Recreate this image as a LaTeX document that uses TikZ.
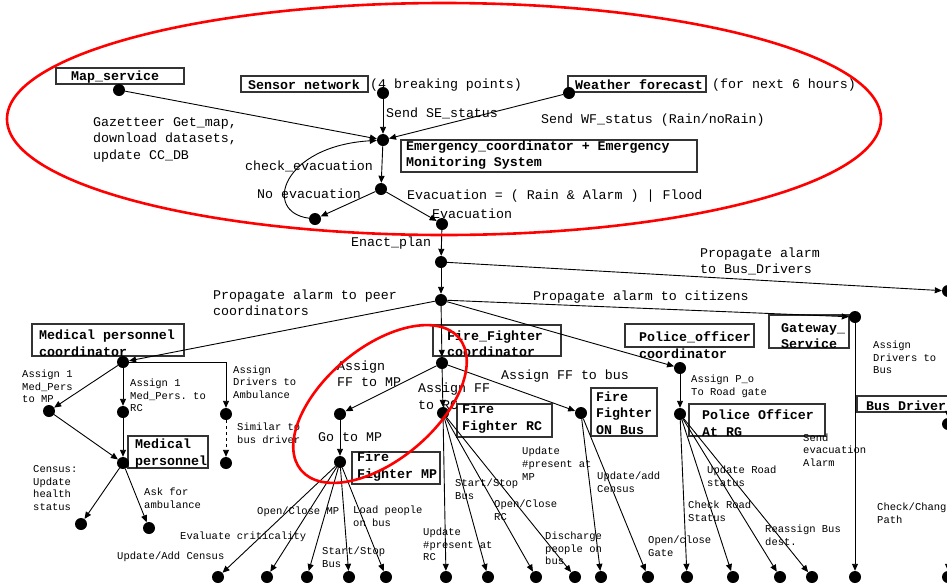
\documentclass[tikz,border=0pt]{standalone}
\usepackage{fontspec}
\setmonofont{Liberation Mono}
\usetikzlibrary{arrows.meta}

\begin{document}
\begin{tikzpicture}[x=1pt, y=-1pt,
    dot/.style={circle, fill, inner sep=0, minimum size=12pt},
    box/.style={draw=black!80, line width=1.1pt, inner sep=0},
    txt/.style={anchor=west, inner sep=0, align=left, font=\ttfamily\fontsize{13.3}{16.5}\selectfont},
    small/.style={anchor=west, inner sep=0, align=left, font=\ttfamily\fontsize{10.5}{12.7}\selectfont},
    boxtxt/.style={anchor=west, inner sep=0, align=left, font=\ttfamily\bfseries\fontsize{13.3}{16.5}\selectfont},
    arr/.style={-{Triangle[length=7pt, width=6pt]}, line width=0.9pt},
    ring/.style={draw=red, line width=2.6pt}]
    \useasboundingbox (0,0) rectangle (947,587);
    \clip (0,0) rectangle (947,587);

    \node[box, minimum width=128pt, minimum height=16pt] (mapbox) at (120,76) {};
    \node[boxtxt] (maptxt) at (71,77) {Map\_service};
    \node[box, minimum width=127pt, minimum height=16pt] (sensbox) at (304.5,84) {};
    \node[boxtxt] (senstxt) at (248,85) {Sensor network};
    \node[txt] (sensinfo) at (370,85) {(4 breaking points)};
    \node[box, minimum width=138pt, minimum height=16pt] (wfbox) at (637,84) {};
    \node[boxtxt] (wftxt) at (575,85) {Weather forecast};
    \node[txt] (wfinfo) at (712,85) {(for next 6 hours)};
    \node[box, minimum width=296pt, minimum height=32pt] (embox) at (549,156) {};
    \node[boxtxt] (emtxt) at (406,155) {Emergency\_coordinator + Emergency\\Monitoring System};

    \node[box, minimum width=152pt, minimum height=32pt] (medcbox) at (108,340) {};
    \node[boxtxt] (medctxt) at (39,343) {Medical personnel\\coordinator};
    \node[box, minimum width=128pt, minimum height=31pt] (ffcbox) at (497,340.5) {};
    \node[boxtxt] (ffctxt) at (447,343.5) {Fire\_Fighter\\coordinator};
    \node[box, minimum width=129pt, minimum height=23pt] (pocbox) at (689.5,335.5) {};
    \node[boxtxt] (poctxt) at (639,345) {Police\_officer\\coordinator};
    \node[box, minimum width=80pt, minimum height=33pt] (gwbox) at (809,331.5) {};
    \node[boxtxt] (gwtxt) at (781,336) {Gateway\_\\Service};
    \node[box, minimum width=103pt, minimum height=16pt] (bdbox) at (908.5,404) {};
    \node[boxtxt] (bdtxt) at (866,406) {Bus Driver};
    \node[box, minimum width=80pt, minimum height=32pt] (mpbox) at (168,452) {};
    \node[boxtxt] (mptxt) at (135,453.5) {Medical\\personnel};
    \node[box, minimum width=95pt, minimum height=33pt] (frcbox) at (504.5,420.5) {};
    \node[boxtxt] (frctxt) at (462,418.5) {Fire\\Fighter RC};
    \node[box, minimum width=66pt, minimum height=48pt] (fbusbox) at (624,412) {};
    \node[boxtxt] (fbustxt) at (596,413) {Fire\\Fighter\\ON Bus};
    \node[box, minimum width=88pt, minimum height=32pt] (fmpbox) at (396,468) {};
    \node[boxtxt] (fmptxt) at (357,466.5) {Fire\\Fighter MP};
    \node[box, minimum width=136pt, minimum height=32pt] (porgbox) at (757,420) {};
    \node[boxtxt] (porgtxt) at (702,423) {Police Officer\\At RG};

    \node[dot] (mapsrv) at (119,90) {};
    \node[dot] (sensnet) at (383,93) {};
    \node[dot] (wforecast) at (569,93) {};
    \node[dot] (emcoord) at (383,140) {};
    \node[dot] (evcheck) at (381,189) {};
    \node[dot] (noevac) at (315,219) {};
    \node[dot] (evac) at (442,224) {};
    \node[dot] (enact) at (441,262) {};
    \node[dot] (propagate) at (441,300) {};
    \node[dot] (busalarm) at (948,291) {};
    \node[dot] (gateway) at (855,317) {};
    \node[dot] (medcoord) at (123,362) {};
    \node[dot] (ffcoord) at (442,363) {};
    \node[dot] (pocoord) at (680,368) {};
    \node[dot] (medmp) at (49,411) {};
    \node[dot] (medrc) at (123,412) {};
    \node[dot] (medamb) at (226,414) {};
    \node[dot] (medpers) at (123,463) {};
    \node[dot] (medsim) at (226,463) {};
    \node[dot] (medcensus) at (81,524) {};
    \node[dot] (medask) at (149,528) {};
    \node[dot] (ffmp) at (340,414) {};
    \node[dot] (ffrc) at (443,413) {};
    \node[dot] (ffbus) at (581,413) {};
    \node[dot] (ffmpat) at (340,462) {};
    \node[dot] (porg) at (680,414) {};
    \node[dot] (busdrv) at (948,424) {};
    \foreach \x [count=\i] in {218,267,307,349,386,446,488,536,575,601,648,687,733,780,812,855,948}
        \node[dot] (b\i) at (\x,577) {};

    \draw[arr] (mapsrv) -- (emcoord);
    \draw[arr] (sensnet) -- (emcoord);
    \draw[arr] (wforecast) -- (emcoord);
    \draw[arr] (emcoord) -- (evcheck);
    \draw[arr] (evcheck) -- (noevac);
    \draw[arr] (evcheck) -- (evac);
    \draw[arr] (noevac) .. controls (262,212) and (282,146) .. (emcoord);
    \draw[arr] (evac) -- (enact);
    \draw[arr] (enact) -- (propagate);
    \draw[arr] (enact) -- (busalarm);
    \draw[arr] (propagate) -- (gateway);
    \draw[arr] (propagate) -- (medcoord);
    \draw[arr] (propagate) -- (ffcoord);
    \draw[arr] (propagate) -- (pocoord);
    \draw[arr] (medcoord) -- (medmp);
    \draw[arr] (medcoord) -- (medrc);
    \draw[arr] (medcoord) -| (medamb);
    \draw[arr] (medmp) -- (medpers);
    \draw[arr] (medrc) -- (medpers);
    \draw[arr, dashed] (medamb) -- (medsim);
    \draw[arr] (medpers) -- (medcensus);
    \draw[arr] (medpers) -- (medask);
    \draw[arr] (ffcoord) -- (ffmp);
    \draw[arr] (ffcoord) -- (ffrc);
    \draw[arr] (ffcoord) -- (ffbus);
    \draw[arr] (ffmp) -- (ffmpat);
    \foreach \i in {1,...,5}
        \draw[arr] (ffmpat) -- (b\i);
    \foreach \i in {6,...,9}
        \draw[arr] (ffrc) -- (b\i);
    \foreach \i in {10,11}
        \draw[arr] (ffbus) -- (b\i);
    \draw[arr] (pocoord) -- (porg);
    \foreach \i in {12,...,15}
        \draw[arr] (porg) -- (b\i);
    \draw[arr] (gateway) -- (b16);
    \draw[arr] (busalarm) -- (busdrv);
    \draw[arr] (busdrv) -- (b17);

    \node[txt] (gazet) at (93,139.5) {Gazetteer Get\_map,\\download datasets,\\update CC\_DB};
    \node[txt] (sendse) at (386,113) {Send SE\_status};
    \node[txt] (sendwf) at (541,120) {Send WF\_status (Rain/noRain)};
    \node[txt] (checkev) at (245,166) {check\_evacuation};
    \node[txt] (noev) at (257,194) {No evacuation};
    \node[txt] (evcond) at (407,196) {Evacuation = ( Rain \& Alarm ) | Flood};
    \node[txt] (evlbl) at (432,214) {Evacuation};
    \node[txt] (enactlbl) at (351,243) {Enact\_plan};
    \node[txt] (propbus) at (700,261.5) {Propagate alarm\\to Bus\_Drivers};
    \node[txt] (propcit) at (533,297) {Propagate alarm to citizens};
    \node[txt] (proppeer) at (213,303) {Propagate alarm to peer\\coordinators};
    \node[txt] (asgffmp) at (337,373.5) {Assign\\FF to MP};
    \node[txt] (asgffrc) at (418,396) {Assign FF\\to RC};
    \node[txt] (asgffbus) at (501,376) {Assign FF to bus};
    \node[txt] (gotomp) at (318,437) {Go to MP};

    \node[small] (asgmp) at (22,386.5) {Assign 1\\Med\_Pers\\to MP};
    \node[small] (asgrc) at (130,395.5) {Assign 1\\Med\_Pers. to\\RC};
    \node[small] (asgamb) at (233,382) {Assign\\Drivers to\\Ambulance};
    \node[small] (similar) at (237,433) {Similar to\\bus driver};
    \node[small] (census) at (33,488) {Census:\\Update\\health\\status};
    \node[small] (askamb) at (144,498) {Ask for\\ambulance};
    \node[small] (updcens) at (117,557) {Update/Add Census};
    \node[small] (evalcrit) at (180,537) {Evaluate criticality};
    \node[small] (openmp) at (257,512) {Open/Close MP};
    \node[small] (loadbus) at (353,516) {Load people\\on bus};
    \node[small] (stopmp) at (322,557.5) {Start/Stop\\Bus};
    \node[small] (presrc) at (423,544.5) {Update\\\#present at\\RC};
    \node[small] (stoprc) at (455,489.5) {Start/Stop\\Bus};
    \node[small] (openrc) at (494,510.5) {Open/Close\\RC};
    \node[small] (presmp) at (522,463.5) {Update\\\#present at\\MP};
    \node[small] (discharge) at (545,548.5) {Discharge\\people on\\bus};
    \node[small] (addcens) at (597,482.5) {Update/add\\Census};
    \node[small] (opengate) at (648,546) {Open/close\\Gate};
    \node[small] (checkroad) at (688,511.5) {Check Road\\Status};
    \node[small] (updroad) at (707,476.5) {Update Road\\status};
    \node[small] (reassign) at (765,535.5) {Reassign Bus\\dest.};
    \node[small] (sendalarm) at (803,450) {Send\\evacuation\\Alarm};
    \node[small] (changepath) at (877,513.5) {Check/Change\\Path};
    \node[small] (asgdrv) at (873,357.5) {Assign\\Drivers to\\Bus};
    \node[small] (asgpo) at (691,386) {Assign P\_o\\To Road gate};

    \draw[ring] (444,119) ellipse [x radius=437, y radius=116];
    \draw[ring, rotate around={40:(380,404)}] (380,404) ellipse [x radius=103, y radius=56];
\end{tikzpicture}
\end{document}
